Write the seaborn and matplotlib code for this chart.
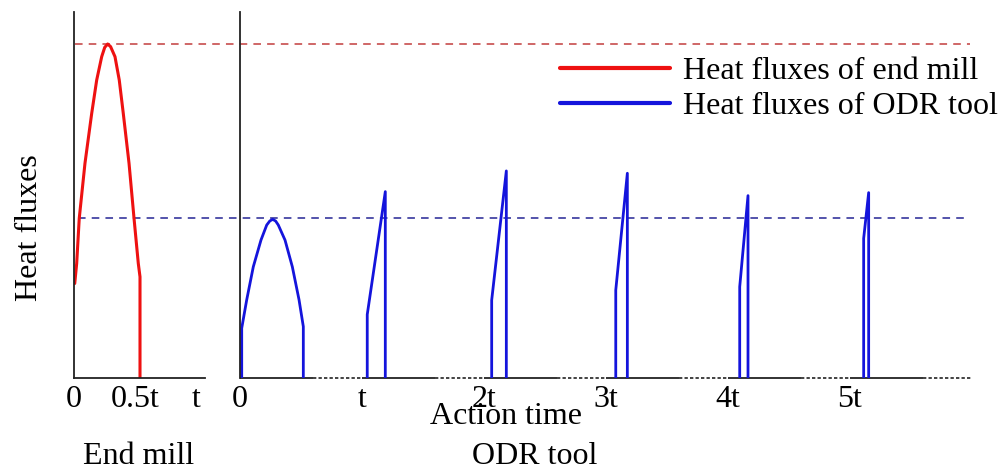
import numpy as np
import pandas as pd
import matplotlib.pyplot as plt
import seaborn as sns

# heat flux of the end mill over one period (t), normalised to its peak
red_t = [0.006, 0.022, 0.043, 0.090, 0.145, 0.186, 0.227, 0.252, 0.276, 0.300,
         0.336, 0.371, 0.404, 0.451, 0.492, 0.527, 0.541, 0.541]
red_q = [0.283, 0.343, 0.478, 0.643, 0.792, 0.892, 0.962, 0.990, 1.0, 0.992,
         0.962, 0.892, 0.792, 0.643, 0.478, 0.343, 0.303, 0.0]

# first pulse of the ODR tool
pulse0_t = [0.014, 0.014, 0.055, 0.109, 0.172, 0.219, 0.244, 0.268,
            0.292, 0.314, 0.369, 0.429, 0.484, 0.519, 0.519]
pulse0_q = [0.0, 0.149, 0.234, 0.333, 0.413, 0.458, 0.470, 0.475,
            0.470, 0.458, 0.413, 0.333, 0.234, 0.154, 0.0]

# later short pulses of the ODR tool
spike_start = [1.043, 2.063, 3.080, 4.096, 5.112]
spike_end = [1.191, 2.183, 3.175, 4.164, 5.153]
spike_base = [0.19, 0.233, 0.263, 0.273, 0.418]
spike_peak = [0.558, 0.62, 0.613, 0.546, 0.555]

red_ref = 1.0
blue_ref = 0.479

left_ticks = [0, 0.5, 1]
left_labels = ['0', '0.5t', 't']
right_ticks = [0, 1, 2, 3, 4, 5, 6]
right_labels = ['0', 't', '2t', '3t', '4t', '5t', '']

# build the blue pulses table
rows = [(0, t, q) for t, q in zip(pulse0_t, pulse0_q)]
for i, (a, b, lo, hi) in enumerate(zip(spike_start, spike_end, spike_base, spike_peak)):
    for t, q in [(a, 0.0), (a, lo), (b, hi), (b, 0.0)]:
        rows.append((i + 1, t, q))
blue = pd.DataFrame(rows, columns=['pulse', 't', 'q'])

sns.set_style('white')
plt.rcParams['font.family'] = ['Liberation Serif', 'DejaVu Serif']
plt.rcParams['font.size'] = 23
plt.rcParams['text.color'] = 'black'
plt.rcParams['xtick.labelcolor'] = 'black'

W, H = 1007, 471
fig = plt.figure(figsize=(W / 100, H / 100), dpi=100)
ax1 = fig.add_axes([74 / W, 93 / H, 131 / W, 366 / H])
ax2 = fig.add_axes([240 / W, 93 / H, 732 / W, 366 / H])

RED = '#ee1111'
BLUE = '#1414dc'

sns.lineplot(x=red_t, y=red_q, ax=ax1, color=RED, lw=2.2, sort=False,
             estimator=None, label='Heat fluxes of end mill',
             solid_joinstyle='round')
sns.lineplot(data=blue, x='t', y='q', units='pulse', estimator=None, sort=False,
             ax=ax2, color=BLUE, lw=2.0, label='Heat fluxes of ODR tool',
             solid_joinstyle='round')

for ax in (ax1, ax2):
    ax.patch.set_visible(False)
    ax.set_ylim(0, 366 / 334)
    ax.set_xlabel('')
    ax.set_ylabel('')
    ax.spines['top'].set_visible(False)
    ax.spines['right'].set_visible(False)
    ax.spines['left'].set_color('#222222')
    ax.spines['left'].set_linewidth(1.3)
    ax.set_yticks([blue_ref, red_ref])
    ax.set_yticklabels([])
    ax.tick_params(axis='y', direction='in', length=3, color='#999999', width=0.8)
    if ax.get_legend():
        ax.get_legend().remove()

ax1.set_xlim(0, 131 / 122)
ax1.spines['bottom'].set_color('#222222')
ax1.spines['bottom'].set_linewidth(1.3)
ax1.set_xticks(left_ticks)
ax1.set_xticklabels(left_labels)
ax1.tick_params(axis='x', length=0, pad=5)

ax2.set_xlim(0, 6)
ax2.spines['bottom'].set_visible(False)
ax2.set_xticks(right_ticks)
ax2.set_xticklabels(right_labels)
ax2.tick_params(axis='x', direction='in', length=6, width=0.8, color='#777777', pad=5)
starts = np.arange(6)
zeros = np.zeros(6)
ax2.hlines(zeros, starts, starts + 0.6, color='#222222', lw=1.3, clip_on=False, zorder=1)
ax2.hlines(zeros, starts + 0.6, starts + 1, color='#222222', lw=1.2,
           linestyles=(0, (2, 1.3)), clip_on=False, zorder=1)

# reference levels across both panels
ax1.axhline(red_ref, xmin=1 / 131, xmax=896 / 131, color='#cc5a5a', lw=1.3,
            ls=(0, (4.2, 3.4)), clip_on=False, zorder=0)
ax1.axhline(blue_ref, xmin=4 / 131, xmax=893 / 131, color='#4545a5', lw=1.3,
            ls=(0, (4.2, 3.4)), clip_on=False, zorder=0)

handles = [ax1.lines[0], ax2.lines[0]]
leg = fig.legend(handles=handles, labels=['Heat fluxes of end mill', 'Heat fluxes of ODR tool'],
                 loc='center left', bbox_to_anchor=(560 / W, 1 - 89 / H), frameon=False,
                 fontsize=23, handlelength=3.45, handletextpad=0.4, labelspacing=0.17,
                 borderpad=0, borderaxespad=0)
for line in leg.get_lines():
    line.set_linewidth(3.0)

fig.text(30 / W, 1 - 228 / H, 'Heat fluxes', rotation=90, ha='center', va='center')
fig.text(506 / W, 1 - 417 / H, 'Action time', ha='center', va='center')
fig.text(139 / W, 1 - 457 / H, 'End mill', ha='center', va='center')
fig.text(535 / W, 1 - 456 / H, 'ODR tool', ha='center', va='center')

fig.savefig('out.png', dpi=100)
